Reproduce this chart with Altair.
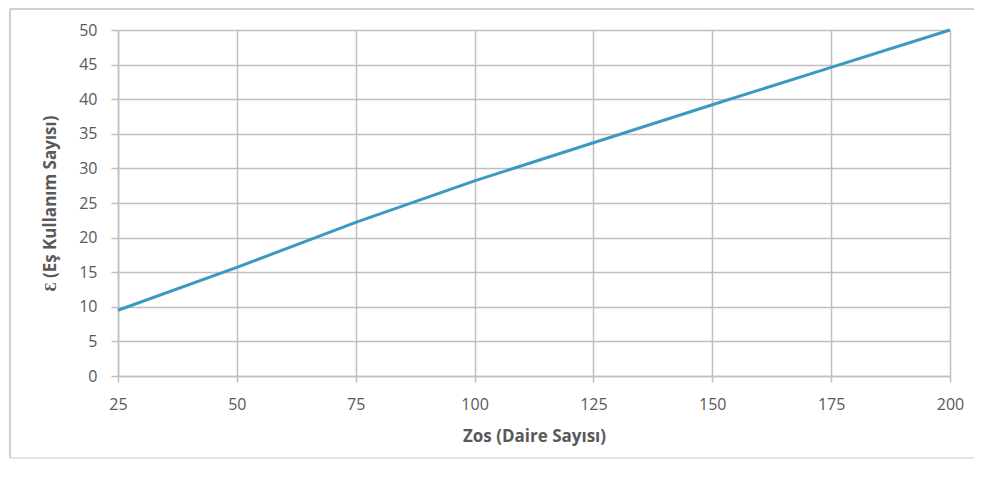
import altair as alt
import pandas as pd

daire = [25, 50, 75, 100, 125, 150, 175, 200]
es_kullanim = [9.5, 15.7, 22.2, 28.2, 33.7, 39.2, 44.6, 50.0]

x_ticks = [25, 50, 75, 100, 125, 150, 175, 200]
y_ticks = [0, 5, 10, 15, 20, 25, 30, 35, 40, 45, 50]

df = pd.DataFrame({"daire": daire, "es": es_kullanim})

FONT = "Open Sans"
GRID = "#bfbfbf"
TXT = "#595959"

W, H = 832, 346
PL, PT = 110, 22

line = alt.Chart(df).mark_line(color="#3a9ac2", strokeWidth=3, clip=False).encode(
    x=alt.X(
        "daire:Q",
        scale=alt.Scale(domain=[25, 200], nice=False, zero=False),
        axis=alt.Axis(
            values=x_ticks, title="Zos (Daire Sayısı)", grid=True,
            gridColor=GRID, gridWidth=1.5, domainColor=GRID, domainWidth=1.5,
            tickColor=GRID, tickWidth=1.5, tickSize=6, labelPadding=14,
            labelFontSize=16, labelColor=TXT, labelFont=FONT, labelFlush=False,
            titleFontSize=17, titleFont=FONT, titleColor=TXT, titleFontWeight="bold",
            titlePadding=16, format="d",
        ),
    ),
    y=alt.Y(
        "es:Q",
        scale=alt.Scale(domain=[0, 50], nice=False),
        axis=alt.Axis(
            values=y_ticks, title="Ɛ (Eş Kullanım Sayısı)", grid=True,
            gridColor=GRID, gridWidth=1.5, domainColor=GRID, domainWidth=1.5,
            tickColor=GRID, tickWidth=1.5, tickSize=7, labelPadding=14,
            labelFontSize=16, labelColor=TXT, labelFont=FONT, labelFlush=False,
            titleFontSize=17, titleFont=FONT, titleColor=TXT, titleFontWeight="bold",
            titlePadding=19, format="d",
        ),
    ),
)

one = pd.DataFrame({"a": [0]})
frame_top = alt.Chart(one).mark_rule(color="#d0d0d0", strokeWidth=2, clip=False).encode(
    x=alt.value(-108), x2=alt.value(1000), y=alt.value(-21)
)
frame_left = alt.Chart(one).mark_rule(color="#d0d0d0", strokeWidth=2, clip=False).encode(
    x=alt.value(-108), y=alt.value(-21), y2=alt.value(428)
)
frame_bottom = alt.Chart(one).mark_rule(color="#e4e4e4", strokeWidth=2, clip=False).encode(
    x=alt.value(-108), x2=alt.value(1000), y=alt.value(428)
)

chart = alt.layer(frame_top, frame_left, frame_bottom, line).properties(
    width=W, height=H,
    padding={"left": PL, "top": PT, "right": 24, "bottom": 84},
    autosize=alt.AutoSizeParams(type="none"),
).configure_view(stroke=None).configure(background="white")

chart.save("out.html", embed_options={"renderer": "svg", "actions": False})
